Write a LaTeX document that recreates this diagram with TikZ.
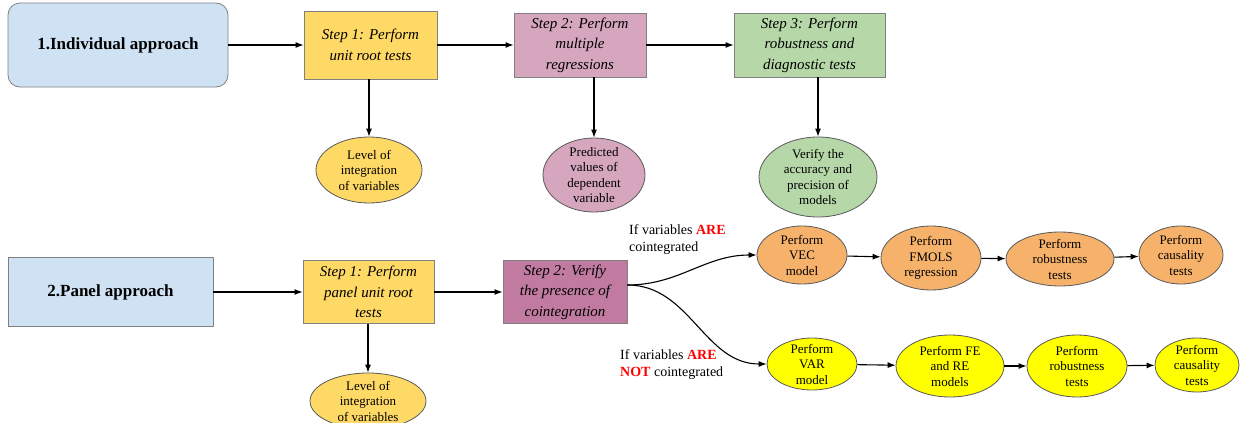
\documentclass[tikz,border=0pt]{standalone}
\usepackage{fontspec}
\setmainfont{Liberation Serif}
\usetikzlibrary{shapes.geometric,arrows.meta}
\definecolor{approachblue}{HTML}{CFE2F3}
\definecolor{stepyellow}{HTML}{FFD966}
\definecolor{steppink}{HTML}{D5A6BD}
\definecolor{stepgreen}{HTML}{B6D7A8}
\definecolor{verifypink}{HTML}{C27BA0}
\definecolor{vecorange}{HTML}{F6B26B}
\definecolor{varyellow}{HTML}{FFFF00}
\definecolor{boxline}{HTML}{808080}
\definecolor{ovalline}{HTML}{595959}
\begin{document}
\begin{tikzpicture}[x=1pt, y=-1pt, >={Latex[length=8pt,width=6pt]},
    approach/.style={draw=boxline, line width=0.8pt, fill=approachblue, font=\fontsize{17}{20}\selectfont\bfseries},
    stepbox/.style={draw=boxline, line width=0.8pt, align=center, inner sep=0pt, font=\fontsize{15}{20.5}\selectfont\itshape},
    oval/.style={ellipse, draw=ovalline, line width=0.8pt, inner sep=0pt},
    ovaltext/.style={align=center, font=\fontsize{13}{15.5}\selectfont},
    note/.style={anchor=west, align=left, inner sep=0pt, font=\fontsize{14}{17}\selectfont},
    flow/.style={->, line width=1.1pt}]
    \useasboundingbox (0,0) rectangle (1240,423);

    \node[approach, rounded corners=12pt, minimum width=220, minimum height=84] (ind) at (118,45) {1.Individual approach};
    \node[stepbox, fill=stepyellow, minimum width=133, minimum height=68] (s1) at (370.5,45) {Step 1: Perform\\unit root tests};
    \node[stepbox, fill=steppink, minimum width=132, minimum height=64] (s2) at (580,45) {Step 2: Perform\\multiple\\regressions};
    \node[stepbox, fill=stepgreen, minimum width=151, minimum height=64] (s3) at (809.5,45) {Step 3: Perform\\robustness and\\diagnostic tests};
    \node[oval, fill=stepyellow, minimum width=106, minimum height=66, label={[ovaltext]center:Level of\\integration\\of variables}] (lvl1) at (369,170) {};
    \node[oval, fill=steppink, minimum width=102, minimum height=74, label={[ovaltext]center:Predicted\\values of\\dependent\\variable}] (pred) at (594,175) {};
    \node[oval, fill=stepgreen, minimum width=118, minimum height=80, label={[ovaltext]center:Verify the\\accuracy and\\precision of\\models}] (verif) at (818,177) {};

    \draw[flow] (ind) -- (s1);
    \draw[flow] (s1) -- (s2);
    \draw[flow] (s2) -- (s3);
    \draw[flow] (s1.south -| lvl1.north) -- (lvl1.north);
    \draw[flow] (s2.south -| pred.north) -- (pred.north);
    \draw[flow] (s3.south -| verif.north) -- (verif.north);

    \node[approach, minimum width=205, minimum height=69] (pan) at (110.5,292) {2.Panel approach};
    \node[stepbox, fill=stepyellow, minimum width=131, minimum height=63] (s1p) at (368.5,292) {Step 1: Perform\\panel unit root\\tests};
    \node[stepbox, fill=verifypink, minimum width=124, minimum height=63] (v2) at (565,292) {Step 2: Verify\\the presence of\\cointegration};
    \node[oval, fill=stepyellow, minimum width=116, minimum height=56, label={[ovaltext]center:Level of\\integration\\of variables}] (lvl2) at (368,401) {};

    \draw[flow] (pan) -- (s1p);
    \draw[flow] (s1p) -- (v2);
    \draw[flow] (s1p.south -| lvl2.north) -- (lvl2.north);

    \node[oval, fill=vecorange, minimum width=90, minimum height=58, label={[ovaltext]center:Perform\\VEC\\model}] (vec) at (802,255) {};
    \node[oval, fill=vecorange, minimum width=100, minimum height=64, label={[ovaltext]center:Perform\\FMOLS\\regression}] (fmols) at (931,258) {};
    \node[oval, fill=vecorange, minimum width=108, minimum height=54, label={[ovaltext]center:Perform\\robustness\\tests}] (robo) at (1060,259) {};
    \node[oval, fill=vecorange, minimum width=84, minimum height=58, label={[ovaltext]center:Perform\\causality\\tests}] (causo) at (1181,255) {};

    \node[oval, fill=varyellow, minimum width=90, minimum height=52, label={[ovaltext]center:Perform\\VAR\\model}] (var) at (812,364) {};
    \node[oval, fill=varyellow, minimum width=108, minimum height=62, label={[ovaltext]center:Perform FE\\and RE\\models}] (fere) at (950,366) {};
    \node[oval, fill=varyellow, minimum width=100, minimum height=62, label={[ovaltext]center:Perform\\robustness\\tests}] (roby) at (1077,366) {};
    \node[oval, fill=varyellow, minimum width=84, minimum height=54, label={[ovaltext]center:Perform\\causality\\tests}] (causy) at (1197,365) {};

    \coordinate (fork) at ([yshift=7pt]v2.east);
    \draw[flow] (fork) to[out=0, in=180] (vec.west);
    \draw[flow] (fork) to[out=0, in=180] (var.west);
    \draw[flow] (vec) -- (fmols);
    \draw[flow] (fmols) -- (robo);
    \draw[flow] (robo) -- (causo);
    \draw[flow] (var) -- (fere);
    \draw[flow] (fere) -- (roby);
    \draw[flow] (roby) -- (causy);

    \node[note] (yes) at (629,240) {If variables \textcolor{red}{\textbf{ARE}}\\cointegrated};
    \node[note] (no) at (620,365) {If variables \textcolor{red}{\textbf{ARE}}\\\textcolor{red}{\textbf{NOT}} cointegrated};
\end{tikzpicture}
\end{document}
